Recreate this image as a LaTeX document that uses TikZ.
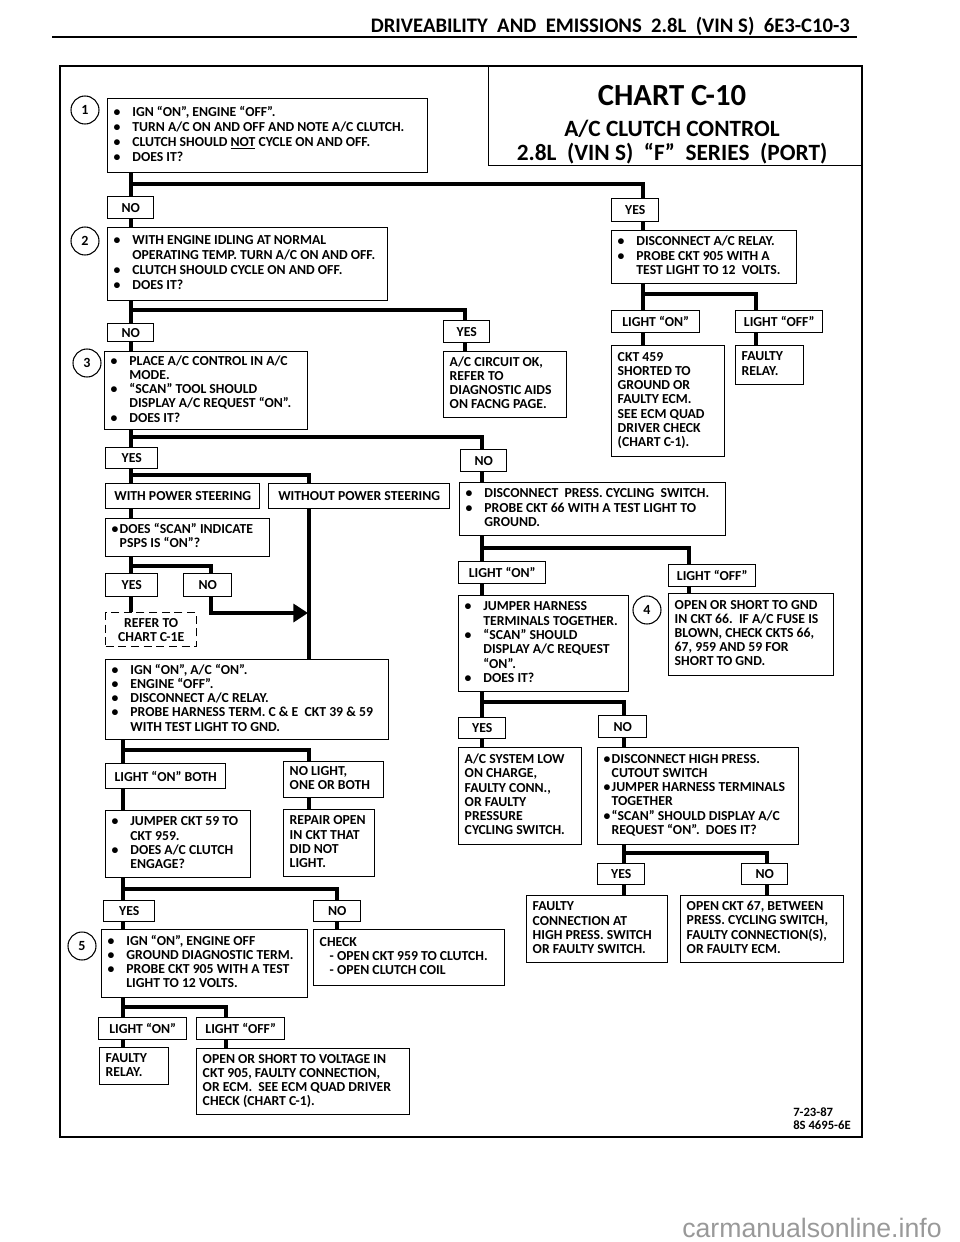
\documentclass[tikz,border=0pt]{standalone}
\usepackage{fontspec}
\setmainfont{Carlito}
\newfontfamily\wmfont{Liberation Sans}
\usetikzlibrary{arrows.meta}
\tikzset{
  box/.style={draw, line width=1.1pt, inner xsep=4.5pt, inner ysep=0pt,
    font=\bfseries\fontsize{10.3}{10.6}\selectfont},
  wide/.style={font=\bfseries\fontsize{10.3}{11.25}\selectfont},
  conn/.style={line width=2.6pt},
  numc/.style={circle, draw, line width=0.8pt, minimum size=21pt, inner sep=0pt,
    font=\bfseries\fontsize{10.5}{10.5}\selectfont},
  ttl/.style={anchor=base, inner sep=0pt},
}
% left-aligned text box, no wrapping
\newcommand{\tbox}[7][]{%
  \pgfmathsetlengthmacro\tbw{(#5-#3)*0.75pt-9pt}%
  \pgfmathsetlengthmacro\tbh{(#6-#4)*0.75pt}%
  \node[box, anchor=north west, minimum height=\tbh, #1] (#2) at (#3,#4)
    {\makebox[\tbw][l]{\begin{tabular}{@{}l@{}}#7\end{tabular}}};}
% centred label box
\newcommand{\lbox}[7][]{%
  \pgfmathsetlengthmacro\tbw{(#5-#3)*0.75pt}%
  \pgfmathsetlengthmacro\tbh{(#6-#4)*0.75pt}%
  \node[box, anchor=north west, minimum width=\tbw, minimum height=\tbh, align=center, #1] (#2) at (#3,#4) {#7};}
\newcommand{\bu}{\makebox[14pt][l]{\textbullet}}
\newcommand{\ind}{\hspace*{14pt}}
\newcommand{\sbu}{\makebox[6pt][l]{\textbullet}}
\begin{document}
\begin{tikzpicture}[x=0.75pt,y=-0.75pt]
\useasboundingbox (0,0) rectangle (960,1242);
% header
\node[anchor=base east, inner sep=0pt, font=\bfseries\fontsize{15.5}{15.5}\selectfont] (hdr) at (850,32)
  {DRIVEABILITY\ \ AND\ \ EMISSIONS\ \ 2.8L\ \ (VIN S)\ \ 6E3-C10-3};
\draw[line width=1.3pt] (52,37) -- (857,37);
% frame
\draw[line width=1.6pt] (60,66) rectangle (862,1137);
% title
\lbox{title}{488}{66}{862}{165}{}
\node[ttl, font=\bfseries\fontsize{23}{23}\selectfont] (t1) at (672,105) {CHART C-10};
\node[ttl, font=\bfseries\fontsize{17.5}{17.5}\selectfont] (t2) at (672,136) {A/C CLUTCH CONTROL};
\node[ttl, font=\bfseries\fontsize{17.5}{17.5}\selectfont] (t3) at (672,160) {2.8L\ \ (VIN S)\ \ “F”\ \ SERIES\ \ (PORT)};
% circles
\node[numc] (c1) at (85,110) {1};
\node[numc] (c2) at (85,241) {2};
\node[numc] (c3) at (87,363) {3};
\node[numc] (c4) at (647,610) {4};
\node[numc] (c5) at (82,946) {5};
% boxes
\tbox[wide]{b1}{107}{98}{427}{172}{\bu IGN “ON”, ENGINE “OFF”.\\\bu TURN A/C ON AND OFF AND NOTE A/C CLUTCH.\\\bu CLUTCH SHOULD \underline{NOT} CYCLE ON AND OFF.\\\bu DOES IT?}
\lbox{no1}{107}{196}{153}{218}{NO}
\lbox{yes1}{611}{198}{658}{221}{YES}
\tbox[wide]{b2}{107}{227}{387}{300}{\bu WITH ENGINE IDLING AT NORMAL\\\ind OPERATING TEMP. TURN A/C ON AND OFF.\\\bu CLUTCH SHOULD CYCLE ON AND OFF.\\\bu DOES IT?}
\tbox{relay}{611}{230}{796}{283}{\bu DISCONNECT A/C RELAY.\\\bu PROBE CKT 905 WITH A\\\ind TEST LIGHT TO 12\ \ VOLTS.}
\lbox{lon1}{611}{310}{699}{332}{LIGHT “ON”}
\lbox{loff1}{735}{310}{822}{332}{LIGHT “OFF”}
\tbox{ckt}{611}{345}{724}{456}{CKT 459\\SHORTED TO\\GROUND OR\\FAULTY ECM.\\SEE ECM QUAD\\DRIVER CHECK\\(CHART C-1).}
\tbox{frel1}{735}{345}{803}{384}{FAULTY\\RELAY.}
\lbox{no2}{107}{323}{153}{341}{NO}
\lbox{yes2}{443}{320}{489}{342}{YES}
\tbox{b3}{104}{351}{307}{429}{\bu PLACE A/C CONTROL IN A/C\\\ind MODE.\\\bu “SCAN” TOOL SHOULD\\\ind DISPLAY A/C REQUEST “ON”.\\\bu DOES IT?}
\tbox{acok}{443}{351}{566}{417}{A/C CIRCUIT OK,\\REFER TO\\DIAGNOSTIC AIDS\\ON FACNG PAGE.}
\lbox{yes3}{105}{447}{157}{468}{YES}
\lbox{no3}{460}{449}{506}{471}{NO}
\lbox{wps}{105}{483}{259}{508}{WITH POWER STEERING}
\lbox{wops}{268}{483}{449}{508}{WITHOUT POWER STEERING}
\tbox{dps}{459}{482}{725}{535}{\bu DISCONNECT\ \ PRESS. CYCLING\ \ SWITCH.\\\bu PROBE CKT 66 WITH A TEST LIGHT TO\\\ind GROUND.}
\tbox{psps}{105}{518}{269}{556}{\sbu DOES “SCAN” INDICATE\\\hspace*{6pt}PSPS IS “ON”?}
\lbox{yes4}{105}{573}{157}{596}{YES}
\lbox{no4}{183}{573}{231}{596}{NO}
\lbox[dashed, dash pattern=on 6pt off 3.5pt]{refer}{105}{612}{196}{646}{REFER TO\\CHART C-1E}
\lbox{lonR}{458}{561}{545}{583}{LIGHT “ON”}
\lbox{loffR}{668}{564}{755}{586}{LIGHT “OFF”}
\tbox{jh}{458}{595}{628}{691}{\bu JUMPER HARNESS\\\ind TERMINALS TOGETHER.\\\bu “SCAN” SHOULD\\\ind DISPLAY A/C REQUEST\\\ind “ON”.\\\bu DOES IT?}
\tbox{osg}{668}{593}{833}{675}{OPEN OR SHORT TO GND\\IN CKT 66.\ \ IF A/C FUSE IS\\BLOWN, CHECK CKTS 66,\\67, 959 AND 59 FOR\\SHORT TO GND.}
\tbox{ign}{105}{659}{388}{739}{\bu IGN “ON”, A/C “ON”.\\\bu ENGINE “OFF”.\\\bu DISCONNECT A/C RELAY.\\\bu PROBE HARNESS TERM. C \& E\ \ CKT 39 \& 59\\\ind WITH TEST LIGHT TO GND.}
\lbox{yesR}{458}{717}{505}{738}{YES}
\lbox{noR}{598}{715}{646}{737}{NO}
\tbox{lowc}{458}{747}{581}{844}{A/C SYSTEM LOW\\ON CHARGE,\\FAULTY CONN.,\\OR FAULTY\\PRESSURE\\CYCLING SWITCH.}
\tbox{hpc}{597}{747}{798}{844}{\sbu DISCONNECT HIGH PRESS.\\\hspace*{6pt}CUTOUT SWITCH\\\sbu JUMPER HARNESS TERMINALS\\\hspace*{6pt}TOGETHER\\\sbu “SCAN” SHOULD DISPLAY A/C\\\hspace*{6pt}REQUEST “ON”.\ \ DOES IT?}
\lbox{lonb}{105}{763}{225}{788}{LIGHT “ON” BOTH}
\tbox{nol}{283}{761}{383}{797}{NO LIGHT,\\ONE OR BOTH}
\tbox{jck}{105}{810}{250}{877}{\bu JUMPER CKT 59 TO\\\ind CKT 959.\\\bu DOES A/C CLUTCH\\\ind ENGAGE?}
\tbox{rep}{283}{809}{374}{876}{REPAIR OPEN\\IN CKT THAT\\DID NOT\\LIGHT.}
\lbox{yesH}{597}{863}{644}{884}{YES}
\lbox{noH}{741}{863}{787}{884}{NO}
\tbox{fconn}{526}{895}{667}{962}{FAULTY\\CONNECTION AT\\HIGH PRESS. SWITCH\\OR FAULTY SWITCH.}
\tbox{o67}{680}{895}{843}{962}{OPEN CKT 67, BETWEEN\\PRESS. CYCLING SWITCH,\\FAULTY CONNECTION(S),\\OR FAULTY ECM.}
\lbox{yes5}{103}{900}{154}{921}{YES}
\lbox{no5}{313}{900}{360}{921}{NO}
\tbox{b5}{101}{929}{307}{997}{\bu IGN “ON”, ENGINE OFF\\\bu GROUND DIAGNOSTIC TERM.\\\bu PROBE CKT 905 WITH A TEST\\\ind LIGHT TO 12 VOLTS.}
\tbox{chk}{313}{929}{504}{985}{CHECK\\\hspace*{7.5pt}- OPEN CKT 959 TO CLUTCH.\\\hspace*{7.5pt}- OPEN CLUTCH COIL}
\lbox{lon5}{98}{1017}{186}{1039}{LIGHT “ON”}
\lbox{loff5}{196}{1017}{284}{1039}{LIGHT “OFF”}
\tbox{frel5}{99}{1047}{168}{1084}{FAULTY\\RELAY.}
\tbox{osv}{196}{1048}{409}{1114}{OPEN OR SHORT TO VOLTAGE IN\\CKT 905, FAULTY CONNECTION,\\OR ECM.\ \ SEE ECM QUAD DRIVER\\CHECK (CHART C-1).}
% columns
\coordinate (xa) at (131,0);
\coordinate (xb) at (643,0);
\coordinate (xc) at (756,0);
\coordinate (xd) at (465,0);
\coordinate (xe) at (482,0);
\coordinate (xf) at (309,0);
\coordinate (xg) at (211,0);
\coordinate (xh) at (689,0);
\coordinate (xi) at (624,0);
\coordinate (xj) at (123,0);
\coordinate (xl) at (337,0);
\coordinate (xm) at (226,0);
\coordinate (xn) at (767,0);
% junctions
\coordinate (j1) at (131,184);
\coordinate (j2) at (131,310);
\coordinate (j3) at (131,437);
\coordinate (j4) at (131,475);
\coordinate (j5) at (131,566);
\coordinate (j6) at (482,548);
\coordinate (j7) at (643,294);
\coordinate (j8) at (482,702);
\coordinate (j9) at (123,750);
\coordinate (j10) at (123,889);
\coordinate (j11) at (624,853);
\coordinate (j12) at (123,1007);
\coordinate (ab) at (211,613);
\coordinate (at) at (308,613);
% connectors
\draw[conn] (b1.south -| xa) -- (no1.north -| xa);
\draw[conn] (j1) -| (yes1.north -| xb);
\draw[conn] (no1.south -| xa) -- (b2.north -| xa);
\draw[conn] (yes1.south -| xb) -- (relay.north -| xb);
\draw[conn] (relay.south -| xb) -- (lon1.north -| xb);
\draw[conn] (j7) -| (loff1.north -| xc);
\draw[conn] (lon1.south -| xb) -- (ckt.north -| xb);
\draw[conn] (loff1.south -| xc) -- (frel1.north -| xc);
\draw[conn] (b2.south -| xa) -- (no2.north -| xa);
\draw[conn] (j2) -| (yes2.north -| xd);
\draw[conn] (no2.south -| xa) -- (b3.north -| xa);
\draw[conn] (yes2.south -| xd) -- (acok.north -| xd);
\draw[conn] (b3.south -| xa) -- (yes3.north -| xa);
\draw[conn] (j3) -| (no3.north -| xe);
\draw[conn] (yes3.south -| xa) -- (wps.north -| xa);
\draw[conn] (j4) -| (wops.north -| xf);
\draw[conn] (wps.south -| xa) -- (psps.north -| xa);
\draw[conn] (psps.south -| xa) -- (yes4.north -| xa);
\draw[conn] (j5) -| (no4.north -| xg);
\draw[conn] (yes4.south -| xa) -- (refer.north -| xa);
\draw[conn] (wops.south -| xf) -- (ign.north -| xf);
\draw[conn, -{Triangle[length=11pt,width=13.5pt]}] (no4.south -| xg) -- (ab) -- (at);
\draw[conn] (no3.south -| xe) -- (dps.north -| xe);
\draw[conn] (dps.south -| xe) -- (lonR.north -| xe);
\draw[conn] (j6) -| (loffR.north -| xh);
\draw[conn] (lonR.south -| xe) -- (jh.north -| xe);
\draw[conn] (loffR.south -| xh) -- (osg.north -| xh);
\draw[conn] (jh.south -| xe) -- (yesR.north -| xe);
\draw[conn] (j8) -| (noR.north -| xi);
\draw[conn] (yesR.south -| xe) -- (lowc.north -| xe);
\draw[conn] (noR.south -| xi) -- (hpc.north -| xi);
\draw[conn] (hpc.south -| xi) -- (yesH.north -| xi);
\draw[conn] (j11) -| (noH.north -| xn);
\draw[conn] (yesH.south -| xi) -- (fconn.north -| xi);
\draw[conn] (noH.south -| xn) -- (o67.north -| xn);
\draw[conn] (ign.south -| xj) -- (lonb.north -| xj);
\draw[conn] (j9) -| (nol.north -| xf);
\draw[conn] (lonb.south -| xj) -- (jck.north -| xj);
\draw[conn] (nol.south -| xf) -- (rep.north -| xf);
\draw[conn] (jck.south -| xj) -- (yes5.north -| xj);
\draw[conn] (j10) -| (no5.north -| xl);
\draw[conn] (yes5.south -| xj) -- (b5.north -| xj);
\draw[conn] (no5.south -| xl) -- (chk.north -| xl);
\draw[conn] (b5.south -| xj) -- (lon5.north -| xj);
\draw[conn] (j12) -| (loff5.north -| xm);
\draw[conn] (lon5.south -| xj) -- (frel5.north -| xj);
\draw[conn] (loff5.south -| xm) -- (osv.north -| xm);
% footer
\node[anchor=base west, inner sep=0pt, font=\bfseries\fontsize{9.5}{9.5}\selectfont] (f1) at (793,1116) {7-23-87};
\node[anchor=base west, inner sep=0pt, font=\bfseries\fontsize{9.5}{9.5}\selectfont] (f2) at (793,1129) {8S 4695-6E};
\node[anchor=base west, inner sep=0pt, font=\wmfont\fontsize{20}{20}\selectfont, text=black!40] (wm) at (682,1237) {carmanualsonline.info};
\end{tikzpicture}
\end{document}
